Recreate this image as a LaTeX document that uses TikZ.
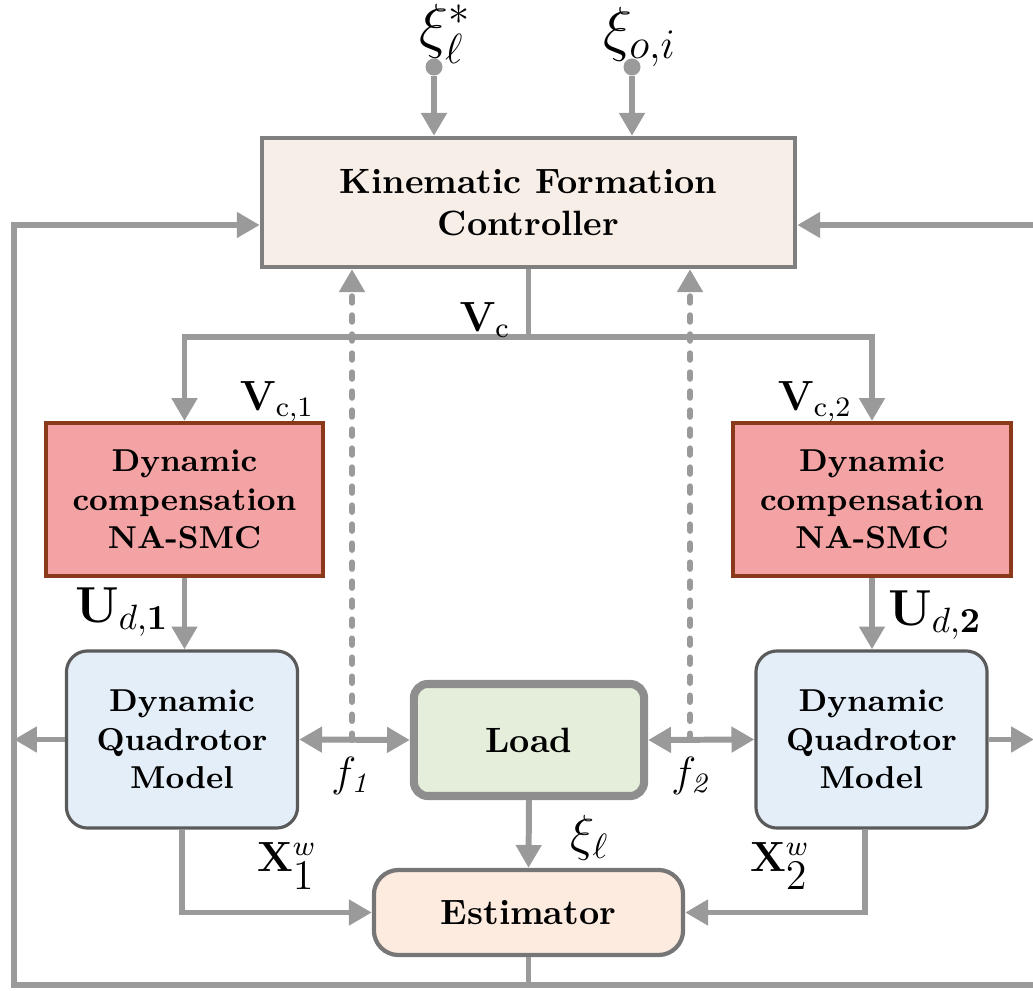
\documentclass[tikz,border=0pt]{standalone}
\usepackage{amsmath, amssymb}
\usepackage{xcolor}
\usetikzlibrary{arrows.meta, positioning, calc}

\definecolor{lineGray}{HTML}{9A9A9A}
\definecolor{ctrlFill}{HTML}{F8EEE8}
\definecolor{ctrlDraw}{HTML}{7F7F7F}
\definecolor{dcFill}{HTML}{F4A3A4}
\definecolor{dcDraw}{HTML}{8A3A1A}
\definecolor{quadFill}{HTML}{E4EEF8}
\definecolor{quadDraw}{HTML}{5A5A5A}
\definecolor{loadFill}{HTML}{E4EEDA}
\definecolor{loadDraw}{HTML}{8E8E8E}
\definecolor{estFill}{HTML}{FDEBDF}
\definecolor{estDraw}{HTML}{767676}

\begin{document}
\begin{tikzpicture}[x=0.01cm, y=-0.01cm, >={Triangle[length=6.5pt, width=7pt]},
  conn/.style={draw=lineGray, line width=1.7pt},
  arr/.style={conn, ->},
  dashedarr/.style={conn, ->, line cap=round, dash pattern=on 0.065cm off 0.125cm},
  lbl/.style={inner sep=0pt},
  dotin/.style={circle, fill=lineGray, inner sep=0pt, minimum size=0.17cm},
  ctrlbox/.style={draw=ctrlDraw, fill=ctrlFill, line width=1.2pt, align=center,
    font=\bfseries, minimum width=5.33cm, minimum height=1.29cm},
  dcbox/.style={draw=dcDraw, fill=dcFill, line width=1.1pt, align=center,
    font=\small\bfseries, minimum width=2.77cm, minimum height=1.53cm},
  quadbox/.style={draw=quadDraw, fill=quadFill, line width=0.9pt, rounded corners=6pt,
    align=center, font=\small\bfseries, minimum width=2.31cm, minimum height=1.77cm},
  loadbox/.style={draw=loadDraw, fill=loadFill, line width=2.3pt, rounded corners=4pt,
    font=\bfseries, minimum width=2.3cm, minimum height=1.12cm},
  estbox/.style={draw=estDraw, fill=estFill, line width=1.2pt, rounded corners=7pt,
    font=\bfseries, minimum width=3.09cm, minimum height=0.85cm}]
  \useasboundingbox (0,0) rectangle (1033,991);
  % Blocs
  \node[ctrlbox] (ctrl) at (528.5,202.5) {Kinematic Formation\\Controller};
  \node[dcbox] (dc1) at (184.5,499.5) {Dynamic\\compensation\\NA-SMC};
  \node[dcbox] (dc2) at (872,499.5) {Dynamic\\compensation\\NA-SMC};
  \node[quadbox] (quad1) at (182,739.5) {Dynamic\\Quadrotor\\Model};
  \node[quadbox] (quad2) at (871.5,739.5) {Dynamic\\Quadrotor\\Model};
  \node[loadbox] (load) at (529,740) {Load};
  \node[estbox] (est) at (528.5,912.5) {Estimator};
  % Entrees de reference
  \node[dotin] (in1) at (434,67) {};
  \node[dotin] (in2) at (632,67) {};
  \node[lbl, font=\LARGE] (xiref) at (445,34) {$\xi_{\ell}^{*}$};
  \node[lbl, font=\LARGE] (xiobs) at (640,37) {$\xi_{o,i}$};
  \draw[arr] (in1) -- (in1 |- ctrl.north);
  \draw[arr] (in2) -- (in2 |- ctrl.north);
  % Consigne de vitesse vers les deux compensateurs
  \coordinate (bus) at (528.5,337);
  \draw[conn] (ctrl.south) -- (bus);
  \draw[arr] (bus) -| (dc1.north);
  \draw[arr] (bus) -| (dc2.north);
  \node[lbl, font=\large] (vc) at (485,320) {$\mathbf{V}_{\mathrm{c}}$};
  \node[lbl, font=\large] (vc1) at (277,402) {$\mathbf{V}_{\mathrm{c},1}$};
  \node[lbl, font=\large] (vc2) at (815,402) {$\mathbf{V}_{\mathrm{c},2}$};
  % Commandes vers les quadrirotors
  \draw[arr] (dc1.south) -- (dc1.south |- quad1.north);
  \draw[arr] (dc2.south) -- (dc2.south |- quad2.north);
  \node[lbl, font=\Large] (ud1) at (122,612) {$\mathbf{U}_{d,\mathbf{1}}$};
  \node[lbl, font=\Large] (ud2) at (935,615) {$\mathbf{U}_{d,\mathbf{2}}$};
  % Efforts d'interaction avec la charge
  \draw[conn, <->] (quad1.east) -- (load.west);
  \draw[conn, <->] (load.east) -- (quad2.west);
  \coordinate (f1pt) at (352,740);
  \coordinate (f2pt) at (690,740);
  \draw[dashedarr] (f1pt) -- (f1pt |- ctrl.south);
  \draw[dashedarr] (f2pt) -- (f2pt |- ctrl.south);
  \node[lbl, font=\large] (f1) at (352,776) {$f_{\mathit{1}}$};
  \node[lbl, font=\large] (f2) at (692,776) {$f_{\mathit{2}}$};
  % Mesures vers l'estimateur
  \draw[arr] (load.south) -- (est.north);
  \draw[arr] (quad1.south) |- (est.west);
  \draw[arr] ([xshift=-0.065cm]quad2.south) |- (est.east);
  \node[lbl, font=\Large] (xil) at (590,838) {$\xi_{\ell}$};
  \node[lbl, font=\large] (x1) at (287,866) {$\mathbf{X}_{\textstyle 1}^{w}$};
  \node[lbl, font=\large] (x2) at (780,866) {$\mathbf{X}_{\textstyle 2}^{w}$};
  % Boucles de retour
  \coordinate (bot) at (528.5,985);
  \coordinate (fbL) at (14,225);
  \coordinate (fbR) at (1050,225);
  \draw[conn] (est.south) -- (bot);
  \draw[arr] (bot) -| (fbL) -- (ctrl.west |- fbL);
  \draw[arr] (bot) -| (fbR) -- (ctrl.east |- fbR);
  \draw[arr] (quad1.west) -- (quad1.west -| fbL);
  \draw[arr] (quad2.east) -- (1034,739.5);
\end{tikzpicture}
\end{document}
